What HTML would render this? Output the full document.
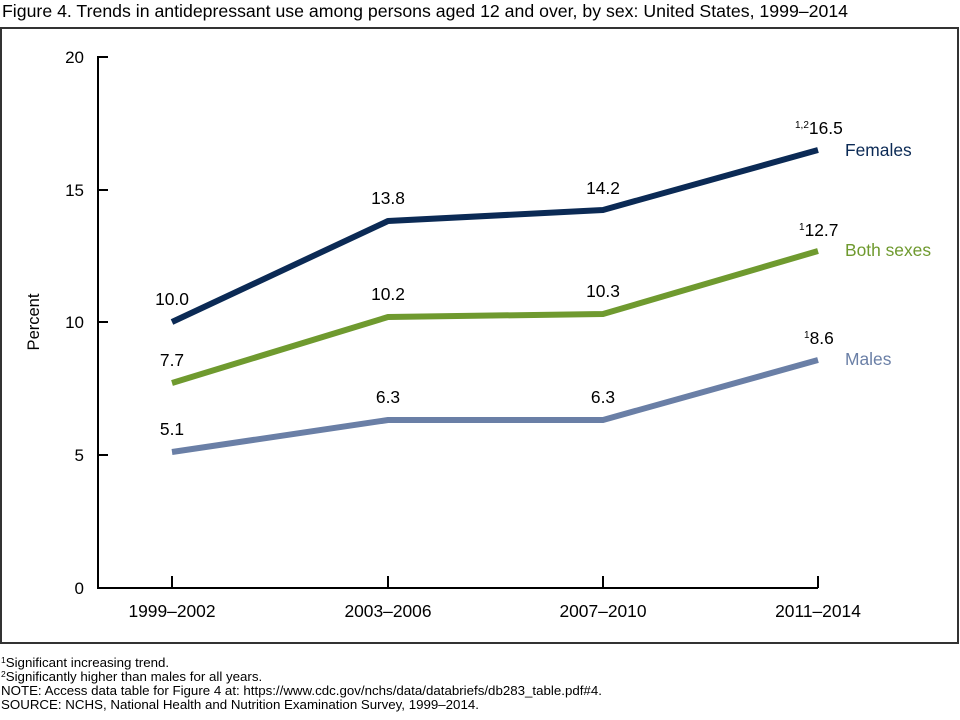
<!DOCTYPE html>
<html><head><style>
body{margin:0;background:#fff;}
svg{display:block;font-family:"Liberation Sans",Arial,sans-serif;}
</style></head><body>
<svg width="960" height="720" xmlns="http://www.w3.org/2000/svg">
<text x="2" y="17" font-size="17.6" fill="#000" textLength="846" lengthAdjust="spacingAndGlyphs">Figure 4. Trends in antidepressant use among persons aged 12 and over, by sex: United States, 1999–2014</text>
<rect x="1" y="28" width="957" height="615" fill="none" stroke="#333" stroke-width="2"/>
<g stroke="#000" stroke-width="2" fill="none">
<polyline points="108,57 98,57 98,588 818,588"/>
<line x1="98" y1="190" x2="108" y2="190"/>
<line x1="98" y1="322" x2="108" y2="322"/>
<line x1="98" y1="455" x2="108" y2="455"/>
<line x1="172" y1="576" x2="172" y2="588"/>
<line x1="388" y1="576" x2="388" y2="588"/>
<line x1="603" y1="576" x2="603" y2="588"/>
<line x1="818" y1="576" x2="818" y2="588"/>
</g>
<g font-size="17" text-anchor="end">
<text x="84" y="63">20</text><text x="84" y="196">15</text><text x="84" y="328">10</text><text x="84" y="461">5</text><text x="84" y="594">0</text>
</g>
<text transform="translate(39,322) rotate(-90)" font-size="16.5" text-anchor="middle">Percent</text>
<g font-size="17.4" text-anchor="middle">
<text x="172" y="617">1999–2002</text><text x="388" y="617">2003–2006</text><text x="603" y="617">2007–2010</text><text x="818" y="617">2011–2014</text>
</g>
<g fill="none" stroke-width="6" stroke-linejoin="round">
<polyline stroke="#0b2a55" points="172,322 388,221 603,210 818,150"/>
<polyline stroke="#6f9a2f" points="172,383 388,317 603,314 818,251"/>
<polyline stroke="#6a7fa6" points="172,452 388,420 603,420 818,360"/>
</g>
<g font-size="17.4" text-anchor="middle">
<text x="172" y="305">10.0</text><text x="388" y="204">13.8</text><text x="603" y="194">14.2</text>
<text x="172" y="366">7.7</text><text x="388" y="300">10.2</text><text x="603" y="297">10.3</text>
<text x="172" y="435">5.1</text><text x="388" y="403">6.3</text><text x="603" y="403">6.3</text>
</g>
<g font-size="17.4">
<text x="795" y="134"><tspan font-size="10" dy="-6">1,2</tspan><tspan dy="6">16.5</tspan></text>
<text x="799" y="236"><tspan font-size="10" dy="-6">1</tspan><tspan dy="6">12.7</tspan></text>
<text x="804" y="344"><tspan font-size="10" dy="-6">1</tspan><tspan dy="6">8.6</tspan></text>
<text x="845" y="156" fill="#0b2a55">Females</text>
<text x="845" y="256" fill="#6f9a2f">Both sexes</text>
<text x="845" y="365" fill="#6a7fa6">Males</text>
</g>
<g font-size="13.3">
<text x="1" y="667"><tspan font-size="8.5" dy="-4">1</tspan><tspan dy="4">Significant increasing trend.</tspan></text>
<text x="1" y="681"><tspan font-size="8.5" dy="-4">2</tspan><tspan dy="4">Significantly higher than males for all years.</tspan></text>
<text x="1" y="695">NOTE: Access data table for Figure 4 at: https://www.cdc.gov/nchs/data/databriefs/db283_table.pdf#4.</text>
<text x="1" y="709">SOURCE: NCHS, National Health and Nutrition Examination Survey, 1999–2014.</text>
</g>
</svg>
</body></html>
